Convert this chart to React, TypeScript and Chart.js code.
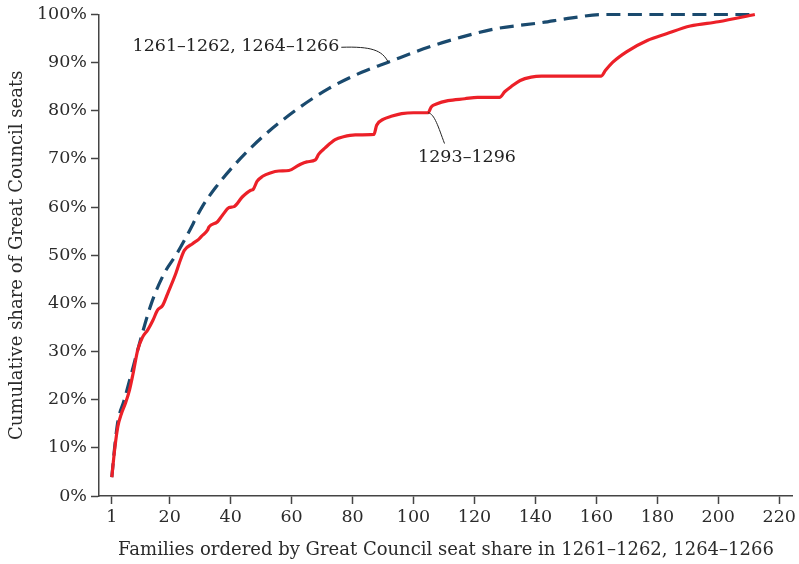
import React, { useEffect, useRef } from "react";
import { Chart, registerables } from "chart.js";

Chart.register(...registerables);

const FONT_FAMILY = "'DejaVu Serif', 'Liberation Serif', serif";
const TEXT_COLOR = "#2b2b2b";
const AXIS_COLOR = "#444444";

// Tick labels
const xTickValues = [1, 20, 40, 60, 80, 100, 120, 140, 160, 180, 200, 220];
const yTickValues = [0, 10, 20, 30, 40, 50, 60, 70, 80, 90, 100];

// Series: 1261–1262, 1264–1266 (dashed blue)
const earlyFamilies = [1, 2, 3, 5, 7, 10, 14, 18, 22.5, 26, 30.6, 35, 41.6, 50.3, 61.3, 72.1, 83, 91.7, 104.8, 115.7, 126.6, 141.8, 152, 162, 212];
const earlyShare = [3.9, 10.5, 15.5, 19.8, 24.4, 31.5, 40, 46, 50.5, 54.5, 60, 64, 69, 74.5, 80.1, 84.6, 88, 90.1, 93.2, 95.3, 97, 98.3, 99.3, 100, 100];

// Series: 1293–1296 (solid red)
const lateFamilies = [1, 2, 3, 4.1, 5.5, 6.8, 8, 9.5, 11.1, 12.8, 14.5, 16, 17.7, 19.3, 22, 23.5, 24.8, 27.5, 29.5, 30.7, 32.4, 32.9, 35.6, 37.3, 39.5, 41.1, 43.8, 46.6, 47.4, 48.7, 50.5, 53, 55.8, 59.1, 62.3, 65, 67.8, 68.9, 71, 74.3, 77, 80.9, 87, 87.9, 90, 93, 96.1, 100, 104.8, 105.8, 107.5, 111.3, 116.8, 121, 128.2, 130, 132, 135, 138.6, 142, 161.6, 163, 165.4, 170, 176.7, 183, 190.8, 200, 212];
const lateShare = [3.9, 10, 14.5, 17, 19.3, 22, 25.5, 30.3, 33, 34.5, 36.5, 38.6, 39.6, 42, 46.2, 49, 51, 52.4, 53.3, 54.1, 55.2, 55.9, 56.9, 58.3, 59.9, 60.1, 62.1, 63.5, 63.7, 65.4, 66.4, 67.1, 67.5, 67.6, 68.7, 69.4, 69.8, 71, 72.3, 74, 74.6, 75, 75.1, 77, 78.2, 78.9, 79.4, 79.6, 79.6, 80.8, 81.4, 82.1, 82.5, 82.8, 82.8, 84, 85, 86.3, 87, 87.2, 87.2, 88.4, 90.1, 92.3, 94.6, 96, 97.6, 98.5, 100];

const earlyLabel = "1261–1262, 1264–1266";
const lateLabel = "1293–1296";
const xTitle = "Families ordered by Great Council seat share in 1261–1262, 1264–1266";
const yTitle = "Cumulative share of Great Council seats";

const toPoints = (xs: number[], ys: number[]) => xs.map((x, i) => ({ x, y: ys[i] }));

const annotationPlugin = {
  id: "seriesLabels",
  afterDatasetsDraw(chart: any) {
    const { ctx, scales } = chart;
    const sx = scales.x;
    const sy = scales.y;
    const px = (v: number) => sx.getPixelForValue(v);
    const py = (v: number) => sy.getPixelForValue(v);
    ctx.save();
    ctx.font = `17.5px ${FONT_FAMILY}`;
    ctx.fillStyle = "#222";
    ctx.textBaseline = "middle";
    ctx.textAlign = "left";

    // Label 1 (blue)
    const l1x = px(7.8);
    const l1y = py(93.4);
    ctx.fillText(earlyLabel, l1x, l1y);
    const w1 = ctx.measureText(earlyLabel).width;
    const s1x = l1x + w1 + 2;
    const s1y = l1y + 1;
    const e1x = px(91.7);
    const e1y = py(90.1);
    ctx.strokeStyle = "#222";
    ctx.lineWidth = 1;
    ctx.beginPath();
    ctx.moveTo(s1x, s1y);
    ctx.bezierCurveTo(s1x + 30, s1y - 1, e1x - 6, e1y - 12, e1x, e1y);
    ctx.stroke();

    // Label 2 (red)
    const l2x = px(101.5);
    const l2y = py(70.3);
    ctx.fillText(lateLabel, l2x, l2y);
    const w2 = ctx.measureText(lateLabel).width;
    const s2x = l2x + w2 * 0.27;
    const s2y = l2y - 14;
    const e2x = px(104.8);
    const e2y = py(79.6);
    ctx.beginPath();
    ctx.moveTo(s2x, s2y);
    ctx.bezierCurveTo(s2x - 6, s2y - 16, s2x - 10, e2y + 1, e2x, e2y);
    ctx.stroke();
    ctx.restore();
  },
};

export default function App() {
  const canvasRef = useRef<HTMLCanvasElement | null>(null);

  useEffect(() => {
    if (!canvasRef.current) return;
    const chart = new Chart(canvasRef.current, {
      type: "line",
      data: {
        datasets: [
          {
            label: lateLabel,
            data: toPoints(lateFamilies, lateShare),
            borderColor: "#ec2028",
            borderWidth: 3.2,
            pointRadius: 0,
            cubicInterpolationMode: "monotone",
            fill: false,
            clip: 6,
          },
          {
            label: earlyLabel,
            data: toPoints(earlyFamilies, earlyShare),
            borderColor: "#1a4a6e",
            borderWidth: 3.2,
            borderDash: [14, 7.5],
            pointRadius: 0,
            cubicInterpolationMode: "monotone",
            fill: false,
            clip: 6,
          },
        ],
      },
      options: {
        responsive: false,
        animation: false,
        devicePixelRatio: 1,
        layout: { padding: { top: 14, right: 3, left: 0, bottom: 0 } },
        plugins: {
          legend: { display: false },
          tooltip: { enabled: false },
        },
        scales: {
          x: {
            type: "linear",
            min: -3.2,
            max: 224.5,
            afterBuildTicks: (scale: any) => {
              scale.ticks = xTickValues.map((v) => ({ value: v }));
            },
            afterFit: (scale: any) => {
              scale.height = 68;
            },
            ticks: {
              autoSkip: false,
              maxRotation: 0,
              padding: 3,
              color: TEXT_COLOR,
              font: { family: FONT_FAMILY, size: 17.5 },
              callback: (v: any) => String(v),
            },
            grid: {
              drawOnChartArea: false,
              drawTicks: true,
              tickLength: 8,
              tickColor: AXIS_COLOR,
              tickWidth: 1.5,
            },
            border: { display: true, color: AXIS_COLOR, width: 1.5 },
            title: {
              display: true,
              text: xTitle,
              color: TEXT_COLOR,
              font: { family: FONT_FAMILY, size: 18 },
              padding: { top: 0, bottom: 3 },
            },
          },
          y: {
            type: "linear",
            min: 0,
            max: 100,
            afterBuildTicks: (scale: any) => {
              scale.ticks = yTickValues.map((v) => ({ value: v }));
            },
            afterFit: (scale: any) => {
              scale.width = 99;
            },
            ticks: {
              padding: 4,
              color: TEXT_COLOR,
              font: { family: FONT_FAMILY, size: 17.5 },
              callback: (v: any) => `${v}%`,
            },
            grid: {
              drawOnChartArea: false,
              drawTicks: true,
              tickLength: 8,
              tickColor: AXIS_COLOR,
              tickWidth: 1.5,
            },
            border: { display: true, color: AXIS_COLOR, width: 1.5 },
            title: {
              display: true,
              text: yTitle,
              color: TEXT_COLOR,
              font: { family: FONT_FAMILY, size: 18 },
              padding: { top: 7, bottom: 0 },
            },
          },
        },
      },
      plugins: [annotationPlugin],
    });
    return () => chart.destroy();
  }, []);

  return (
    <div style={{ position: "fixed", left: 0, top: 0, width: 799, height: 564, background: "#fff" }}>
      <canvas ref={canvasRef} width={799} height={564} style={{ display: "block" }} />
    </div>
  );
}
